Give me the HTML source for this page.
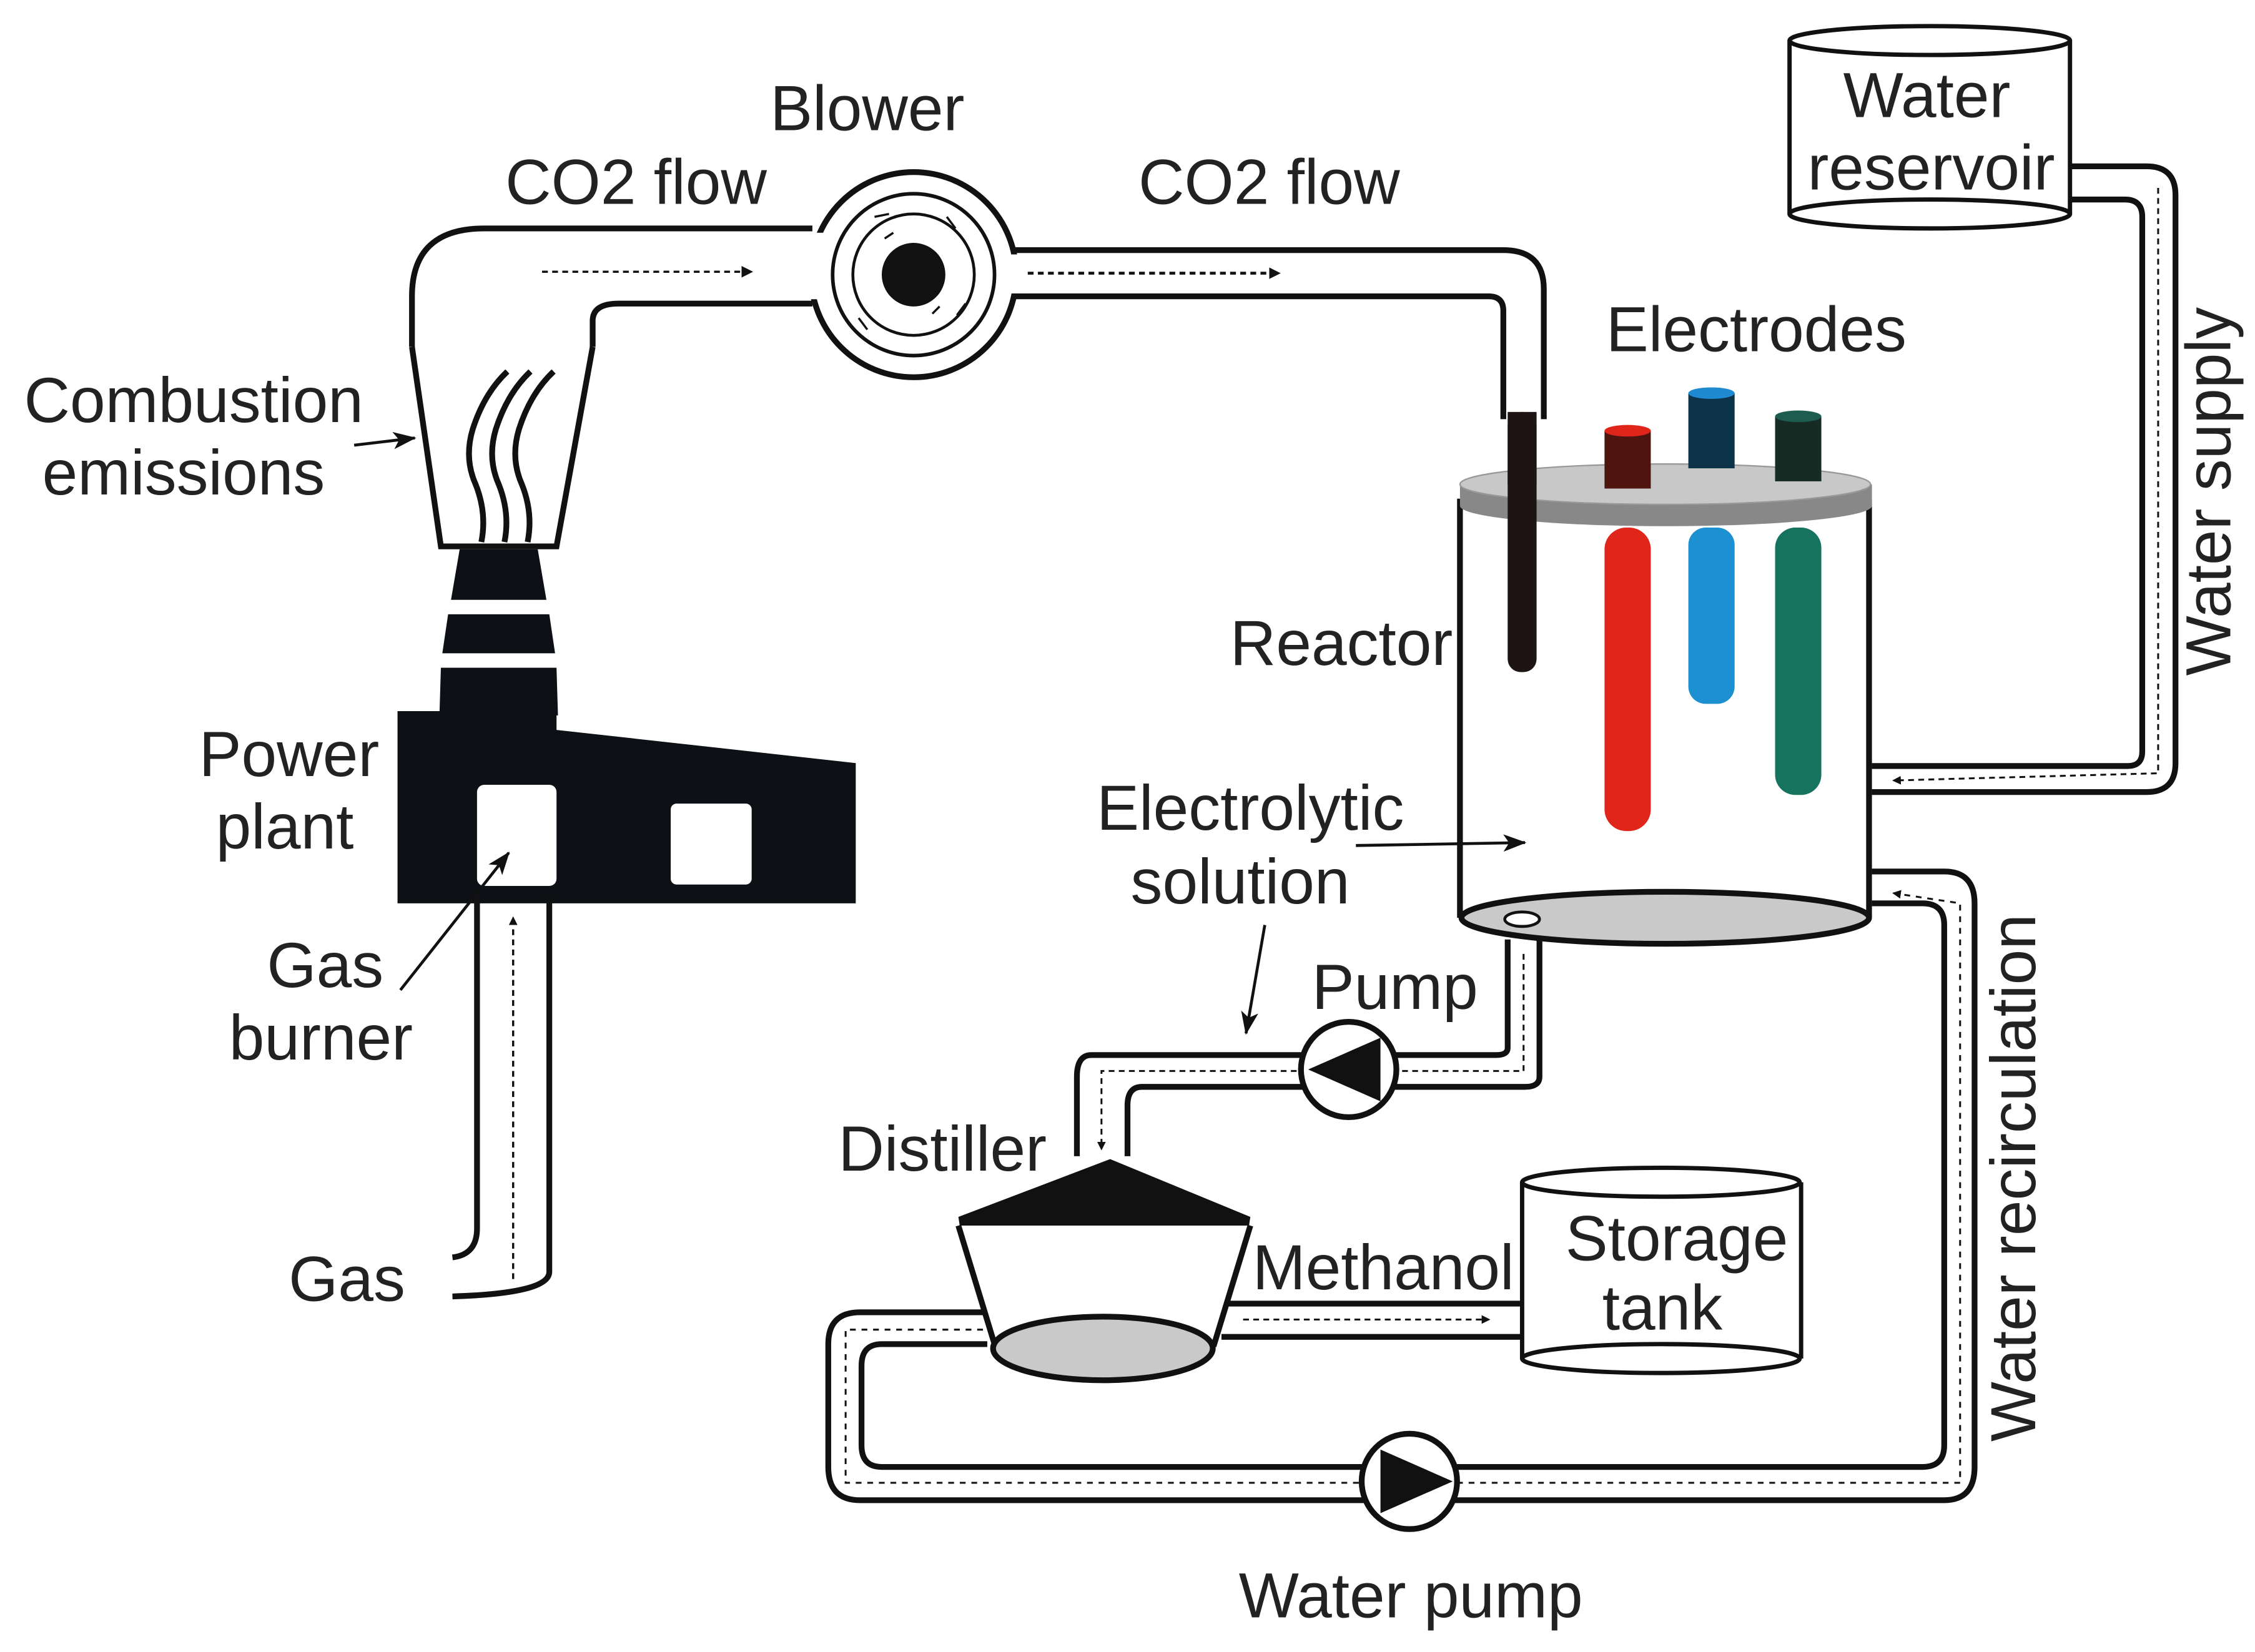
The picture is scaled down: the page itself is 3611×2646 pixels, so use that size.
<!DOCTYPE html>
<html><head><meta charset="utf-8"><style>html,body{margin:0;padding:0;background:#fff}svg{display:block}text{font-family:"Liberation Sans",Arial,sans-serif;fill:#222}</style></head>
<body>
<svg width="3611" height="2646" viewBox="0 0 1560 1143" xmlns="http://www.w3.org/2000/svg">
<defs>
<marker id="ah" markerWidth="8" markerHeight="8" refX="7" refY="4" orient="auto" markerUnits="userSpaceOnUse"><path d="M0,0 L8,4 L0,8 z" fill="#111"/></marker>
<marker id="sa" markerWidth="6" markerHeight="6" refX="5" refY="3" orient="auto" markerUnits="userSpaceOnUse"><path d="M0,0 L6,3 L0,6 z" fill="#111"/></marker>
<marker id="la" markerWidth="16" markerHeight="12" refX="15" refY="6" orient="auto" markerUnits="userSpaceOnUse"><path d="M0,0 L16,6 L0,12 L4,6 z" fill="#111"/></marker>
</defs>
<rect width="1560" height="1143" fill="#fff"/>

<!-- funnel + CO2 pipe left -->
<g stroke="#111" stroke-width="4" fill="none">
<path d="M285,240 L285,205 Q285,158 335,158 L562,158"/>
<path d="M410,240 L410,222 Q410,210 428,210 L562,210"/>
<path d="M285,240 L305,378 L385,378 L410,240"/>
<path d="M700,173 L1040,173 Q1068,173 1068,200 L1068,290"/>
<path d="M700,205 L1030,205 Q1040,205 1040,215 L1040,290"/>
</g>
<line x1="375" y1="188" x2="520" y2="188" stroke="#111" stroke-width="1.5" stroke-dasharray="4,3" marker-end="url(#ah)"/>
<line x1="690" y1="189" x2="885" y2="189" stroke="#111" stroke-width="2" stroke-dasharray="4,3" marker-end="url(#ah)"/>
<!-- smoke -->
<g stroke="#111" stroke-width="4" fill="none">
<path d="M333,375 q4,-20 -4,-40 q-8,-18 -2,-38 q8,-25 24,-40"/>
<path d="M349,375 q4,-20 -4,-40 q-8,-18 -2,-38 q8,-25 24,-40"/>
<path d="M365,375 q4,-20 -4,-40 q-8,-18 -2,-38 q8,-25 24,-40"/>
</g>

<!-- blower -->
<circle cx="632" cy="190" r="71" fill="#fff" stroke="#111" stroke-width="4"/>
<rect x="555" y="161" width="20" height="46" fill="#fff"/>
<rect x="690" y="176" width="20" height="27" fill="#fff"/>
<circle cx="632" cy="190" r="56" fill="none" stroke="#111" stroke-width="2.5"/>
<circle cx="632" cy="190" r="42" fill="none" stroke="#111" stroke-width="2"/>
<circle cx="632" cy="190" r="22" fill="#111"/>
<g stroke="#111" stroke-width="1.5" fill="none">
<path d="M605,150 l10,-2 M655,150 l6,8 M668,210 l-6,8 M600,228 l-6,-8 M612,165 l6,-4 M650,212 l-5,5"/>
</g>

<!-- power plant -->
<g fill="#0d1014">
<polygon points="318,380 372,380 378,415 312,415"/>
<polygon points="310,425 380,425 384,452 306,452"/>
<polygon points="305,462 385,462 386,495 304,495"/>
<polygon points="275,492 385,492 385,505 592,528 592,625 275,625"/>
</g>
<rect x="330" y="543" width="55" height="70" rx="5" fill="#fff"/>
<rect x="464" y="556" width="56" height="56" rx="4" fill="#fff"/>
<g stroke="#111" stroke-width="4" fill="none">
<path d="M330,620 L330,850 Q330,868 313,870"/>
<path d="M380,620 L380,880 Q380,895 313,897"/>
</g>
<line x1="355" y1="885" x2="355" y2="635" stroke="#111" stroke-width="1.5" stroke-dasharray="4,3" marker-end="url(#sa)"/>

<!-- water reservoir -->
<g stroke="#111" stroke-width="3">
<rect x="1238" y="28" width="194" height="120" fill="#fff" stroke="none"/>
<line x1="1238" y1="28" x2="1238" y2="148"/><line x1="1432" y1="28" x2="1432" y2="148"/>
<ellipse cx="1335" cy="28" rx="97" ry="10" fill="#fff"/>
<ellipse cx="1335" cy="148" rx="97" ry="10" fill="#fff"/>
</g>
<g stroke="#111" stroke-width="4" fill="none">
<path d="M1432,115 L1485,115 Q1505,115 1505,135 L1505,528 Q1505,548 1485,548 L1295,548"/>
<path d="M1432,138 L1470,138 Q1482,138 1482,150 L1482,520 Q1482,530 1472,530 L1295,530"/>
</g>
<path d="M1493,130 L1493,535 L1310,540" stroke="#111" stroke-width="1.3" stroke-dasharray="4,3" fill="none" marker-end="url(#sa)"/>

<!-- reactor -->
<g stroke="#111" stroke-width="4">
<line x1="1010" y1="345" x2="1010" y2="635"/>
<line x1="1293" y1="345" x2="1293" y2="635"/>
<ellipse cx="1152" cy="635" rx="141" ry="18" fill="#c9c9c9"/>
</g>
<ellipse cx="1053" cy="636" rx="12" ry="5" fill="#fff" stroke="#111" stroke-width="2"/>
<path d="M1010,335 L1010,350 A142,14 0 0 0 1295,350 L1295,335 Z" fill="#888"/>
<ellipse cx="1152" cy="335" rx="142" ry="14" fill="#c8c8c8" stroke="#999"/>
<rect x="1043" y="285" width="20" height="180" rx="9" fill="#1e1414"/>
<rect x="1043" y="285" width="20" height="50" fill="#1e1414"/>
<rect x="1110" y="298" width="32" height="40" fill="#4d1410"/>
<ellipse cx="1126" cy="298" rx="16" ry="4" fill="#e0261a"/>
<rect x="1110" y="365" width="32" height="210" rx="15" fill="#e0261a"/>
<rect x="1168" y="272" width="32" height="52" fill="#0c3347"/>
<ellipse cx="1184" cy="272" rx="16" ry="4" fill="#1f8ad0"/>
<rect x="1168" y="365" width="32" height="122" rx="12" fill="#1c90d0"/>
<rect x="1228" y="288" width="32" height="45" fill="#162b24"/>
<ellipse cx="1244" cy="288" rx="16" ry="4" fill="#1e5c50"/>
<rect x="1228" y="365" width="32" height="185" rx="14" fill="#16735f"/>

<!-- recirculation loop -->
<g stroke="#111" stroke-width="4" fill="none">
<path d="M1295,603 L1345,603 Q1366,603 1366,625 L1366,1015 Q1366,1038 1345,1038 L595,1038 Q573,1038 573,1015 L573,930 Q573,908 595,908 L680,908"/>
<path d="M1295,625 L1330,625 Q1345,625 1345,640 L1345,1000 Q1345,1015 1330,1015 L610,1015 Q596,1015 596,1000 L596,945 Q596,930 610,930 L683,930"/>
</g>
<path d="M680,920 L585,920 L585,1026 L1356,1026 L1356,625 L1310,618" stroke="#111" stroke-width="1.3" stroke-dasharray="4,4" fill="none" marker-end="url(#sa)"/>
<circle cx="975" cy="1025" r="33" fill="#fff" stroke="#111" stroke-width="4"/>
<polygon points="955,1003 1005,1025 955,1047" fill="#111"/>

<g stroke="#111" stroke-width="4" fill="none">
<path d="M1043,650 L1043,725 Q1043,730 1035,730 L755,730 Q745,730 745,745 L745,800"/>
<path d="M1065,650 L1065,745 Q1065,752 1055,752 L790,752 Q780,752 780,765 L780,800"/>
</g>
<path d="M1054,660 L1054,741 L762,741 L762,795" stroke="#111" stroke-width="1.3" stroke-dasharray="4,3" fill="none" marker-end="url(#sa)"/>
<circle cx="933" cy="740" r="33" fill="#fff" stroke="#111" stroke-width="4"/>
<polygon points="955,718 905,740 955,762" fill="#111"/>

<!-- distiller -->
<polygon points="663,842 768,802 865,842 863,855 665,855" fill="#111"/>
<path d="M663,848 L688,930 L840,930 L865,848" fill="#fff" stroke="#111" stroke-width="4"/>
<ellipse cx="763" cy="933" rx="76" ry="22" fill="#c9c9c9" stroke="#111" stroke-width="4"/>
<g stroke="#111" stroke-width="4">
<line x1="848" y1="902" x2="1055" y2="902"/>
<line x1="845" y1="925" x2="1055" y2="925"/>
</g>
<line x1="860" y1="913" x2="1030" y2="913" stroke="#111" stroke-width="1.3" stroke-dasharray="4,3" marker-end="url(#sa)"/>
<!-- storage tank -->
<g stroke="#111" stroke-width="3">
<rect x="1053" y="818" width="193" height="122" fill="#fff" stroke="none"/>
<line x1="1053" y1="818" x2="1053" y2="940"/><line x1="1246" y1="818" x2="1246" y2="940"/>
<ellipse cx="1149" cy="818" rx="96" ry="10" fill="#fff"/>
<ellipse cx="1149" cy="940" rx="96" ry="10" fill="#fff"/>
</g>

<!-- label arrows -->
<g stroke="#111" stroke-width="2" fill="none">
<line x1="245" y1="308" x2="287" y2="303" marker-end="url(#la)"/>
<line x1="277" y1="685" x2="352" y2="590" marker-end="url(#la)"/>
<line x1="938" y1="585" x2="1055" y2="583" marker-end="url(#la)"/>
<line x1="875" y1="640" x2="862" y2="715" marker-end="url(#la)"/>
</g>

<g font-size="44" text-anchor="middle">
<text x="600" y="90">Blower</text>
<text x="440" y="141">CO2 flow</text>
<text x="878" y="141">CO2 flow</text>
<text x="1215" y="243">Electrodes</text>
<text x="1333" y="81">Water</text>
<text x="1336" y="131">reservoir</text>
<text x="928" y="460">Reactor</text>
<text x="865" y="574">Electrolytic</text>
<text x="858" y="625">solution</text>
<text x="965" y="698">Pump</text>
<text x="652" y="810">Distiller</text>
<text x="957" y="892">Methanol</text>
<text x="1160" y="872">Storage</text>
<text x="1150" y="920">tank</text>
<text x="976" y="1119">Water pump</text>
<text x="134" y="292">Combustion</text>
<text x="127" y="342">emissions</text>
<text x="200" y="537">Power</text>
<text x="197" y="587">plant</text>
<text x="225" y="683">Gas</text>
<text x="222" y="733">burner</text>
<text x="240" y="900">Gas</text>
<text transform="translate(1543,340) rotate(-90)">Water supply</text>
<text transform="translate(1408,815) rotate(-90)">Water recirculation</text>
</g>
</svg>
</body></html>
